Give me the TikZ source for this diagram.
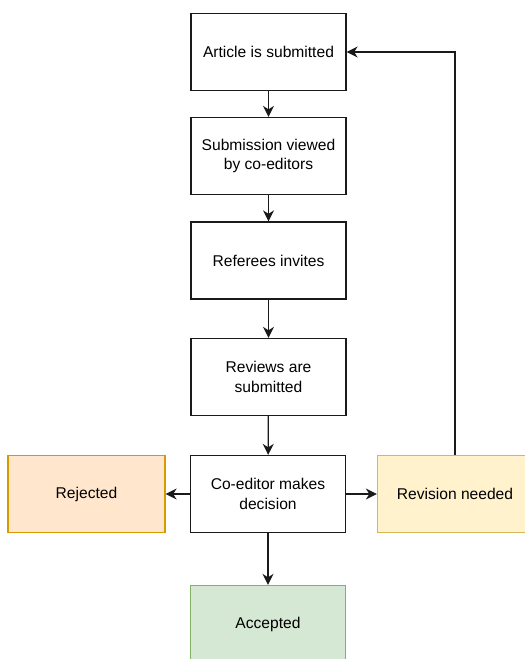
\documentclass[tikz,border=0pt]{standalone}
\usepackage{fontspec}
\setmainfont{Liberation Sans}
\usetikzlibrary{arrows.meta}
\definecolor{rejfill}{HTML}{FFE6CC}
\definecolor{rejdraw}{HTML}{D79B00}
\definecolor{revfill}{HTML}{FFF2CC}
\definecolor{revdraw}{HTML}{D6B656}
\definecolor{accfill}{HTML}{D5E8D4}
\definecolor{accdraw}{HTML}{82B366}
\definecolor{linegray}{HTML}{1A1A1A}
\begin{document}
\begin{tikzpicture}[x=1pt,y=-1pt,
  stepbox/.style={draw=linegray,line width=1.3pt,fill=white,minimum width=155pt,minimum height=77pt,
    align=center,inner sep=0pt,font=\fontsize{15.6}{19.5}\selectfont,text=black},
  conn/.style={draw=linegray,line width=1.3pt,-{Stealth[length=11pt,width=11pt,inset=3.5pt]}}]
\useasboundingbox (0,0) rectangle (525,659);
\clip (0,0) rectangle (525,659);
\fill[white] (0,0) rectangle (525,659);
\node[stepbox] (art) at (268.5,52) {Article is submitted};
\node[stepbox] (sub) at (268.5,156) {Submission viewed\\by co-editors};
\node[stepbox] (ref) at (268.5,260.5) {Referees invites};
\node[stepbox] (rev) at (268.5,377) {Reviews are\\submitted};
\node[stepbox] (dec) at (268,494) {Co-editor makes\\decision};
\node[stepbox,fill=rejfill,draw=rejdraw,minimum width=157pt] (rej) at (86.5,494) {Rejected};
\node[stepbox,fill=revfill,draw=revdraw] (need) at (455,494) {Revision needed};
\node[stepbox,fill=accfill,draw=accdraw] (acc) at (268,624) {Accepted};
\draw[conn] (art) -- (sub);
\draw[conn] (sub) -- (ref);
\draw[conn] (ref) -- (rev);
\draw[conn] (rev) -- (dec);
\draw[conn] (dec) -- (acc);
\draw[conn] (dec) -- (rej);
\draw[conn] (dec) -- (need);
\draw[conn] (need.north) -- (need.north |- art.east) -- (art.east);
\end{tikzpicture}
\end{document}
